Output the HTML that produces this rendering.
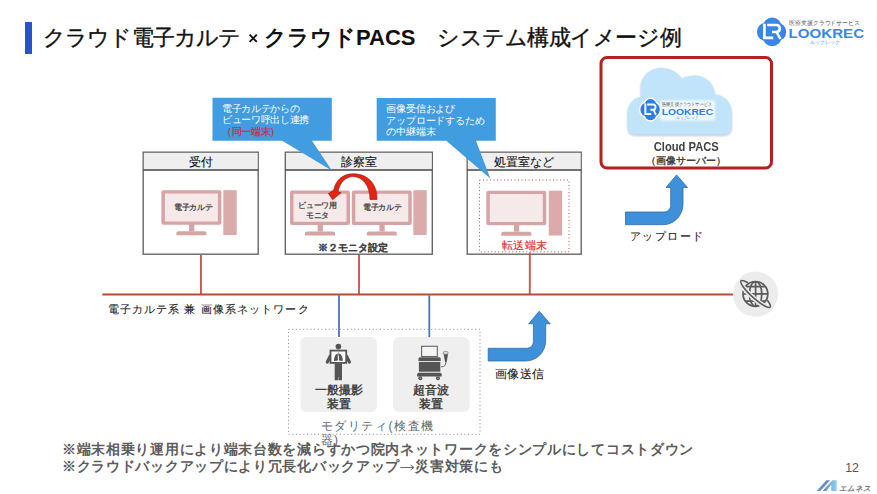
<!DOCTYPE html>
<html lang="ja">
<head>
<meta charset="utf-8">
<style>
html,body{margin:0;padding:0;background:#fff;}
body{width:877px;height:494px;position:relative;overflow:hidden;font-family:"Liberation Sans",sans-serif;color:#222;}
.t{position:absolute;white-space:nowrap;line-height:1;}
svg{position:absolute;left:0;top:0;}
</style>
</head>
<body>
<svg width="877" height="494" viewBox="0 0 877 494">
  <defs>
    <g id="mon">
      <rect x="0" y="0" width="60" height="34.5" rx="2" fill="#d6a4a5"/>
      <rect x="3.5" y="3.3" width="53" height="28" fill="#f6e9e9"/>
      <rect x="27.6" y="34" width="5.3" height="7" fill="#d6a4a5"/>
      <path d="M15,45 L15,42.5 Q15,41 17,41 L43,41 Q45,41 45,42.5 L45,45 Z" fill="#d6a4a5"/>
    </g>
    <g id="tower">
      <rect x="0" y="0" width="13.4" height="44.8" fill="#dbaaab"/>
    </g>
    <g id="barrow">
      <!-- blue bent arrow, origin = bar left/top -->
      <path d="M0,0 H38.5 C42.2,0 45.2,-3 45.2,-6.7 V-24.5 H40.5 L51,-37.1 L62,-24.5 H57.5 V-8 C57.5,3.4 48.8,12.7 37.5,12.7 H0 Z" fill="#3f90db" stroke="#2f6cab" stroke-width="0.8"/>
    </g>
    <g id="mlogo">
      <circle cx="0" cy="0" r="13" fill="#3a86e6"/>
    </g>
  </defs>
  <!-- title bar -->
  <rect x="25" y="22" width="7" height="32" fill="#2855c5"/>
  <path d="M249.6,34.7 L256.8,41.9 M256.8,34.7 L249.6,41.9" stroke="#111" stroke-width="1.9"/>

  <!-- Cloud PACS red box -->
  <rect x="601" y="57.5" width="170.5" height="110.5" rx="6" fill="#fff" stroke="#b52020" stroke-width="3"/>
  <!-- cloud -->
  <defs><filter id="cs" x="-10%" y="-10%" width="120%" height="130%"><feGaussianBlur stdDeviation="1"/></filter></defs>
  <path d="M635.5,134.6 Q627.5,134.6 627.5,126.5 V113 C627.5,104 634,97.3 640.6,97.1 V88 C640.6,76.7 649.7,67.8 661,67.8 C670,67.8 677.5,72 682,78.4 C685.5,76.2 689.5,75.4 695,75.4 C705.5,75.4 714.7,83.5 714.7,94 C724.5,95 731.7,102.5 731.7,112 V126.5 Q731.7,134.6 723.7,134.6 Z" fill="#8fa4b4" opacity="0.55" transform="translate(0 1.4)" filter="url(#cs)"/>
  <path d="M635.5,134.6 Q627.5,134.6 627.5,126.5 V113 C627.5,104 634,97.3 640.6,97.1 V88 C640.6,76.7 649.7,67.8 661,67.8 C670,67.8 677.5,72 682,78.4 C685.5,76.2 689.5,75.4 695,75.4 C705.5,75.4 714.7,83.5 714.7,94 C724.5,95 731.7,102.5 731.7,112 V126.5 Q731.7,134.6 723.7,134.6 Z" fill="#c2e4fa"/>

  <!-- boxes -->
  <g stroke="#666" stroke-width="1.4" fill="#fff">
    <rect x="143.2" y="152.2" width="115" height="102"/>
    <rect x="285.3" y="152.2" width="147" height="102"/>
    <rect x="467.2" y="152.2" width="114" height="102"/>
  </g>
  <g fill="#efefef">
    <rect x="143.9" y="152.9" width="113.6" height="16.6"/>
    <rect x="286" y="152.9" width="145.6" height="16.6"/>
    <rect x="467.9" y="152.9" width="112.6" height="16.6"/>
  </g>
  <g stroke="#444" stroke-width="1.6">
    <line x1="143.2" y1="170" x2="258.2" y2="170"/>
    <line x1="285.3" y1="170" x2="432.3" y2="170"/>
    <line x1="467.2" y1="170" x2="581.2" y2="170"/>
  </g>
  <!-- dotted red in 処置室 -->
  <rect x="479.5" y="180" width="89.5" height="71.8" fill="none" stroke="#c04a4a" stroke-width="1" stroke-dasharray="1 2.5"/>

  <!-- monitors -->
  <use href="#mon" x="161.4" y="190.2"/>
  <use href="#tower" x="223.3" y="190.2"/>
  <use href="#mon" x="290" y="190.5"/>
  <use href="#mon" x="351.8" y="190.5"/>
  <use href="#tower" x="413.3" y="190.2"/>
  <use href="#mon" x="486.3" y="190.7"/>
  <use href="#tower" x="548.7" y="190.7"/>

  <!-- curved red arrow -->
  <path d="M377,199.5 C377.3,184 368,173.8 353,173.8 C342,173.8 335.5,181 333.6,190.3 L328.4,193.5 L332.6,199.8 L341.1,192.8 L338,191.6 C339.7,183 345.5,176.6 353,176.6 C362,176.6 370,185 370,199.5 Z" fill="#e52310" stroke="#8b1a1a" stroke-width="0.6"/>

  <!-- callouts -->
  <path d="M212.5,97.8 H331.8 V140.7 H312 L331.8,170.4 L282.2,140.7 H212.5 Z" fill="#419de0"/>
  <path d="M376.7,98 H495.8 V140.7 H476 L490.3,178.6 L446.3,140.7 H376.7 Z" fill="#419de0"/>

  <!-- network -->
  <g stroke="#c55a48" stroke-width="1.9">
    <line x1="200.9" y1="254.8" x2="200.9" y2="294.5"/>
    <line x1="359" y1="254.8" x2="359" y2="294.5"/>
    <line x1="529.8" y1="252.5" x2="529.8" y2="294.5"/>
  </g>
  <line x1="102.3" y1="294.5" x2="733" y2="294.5" stroke="#b84a3c" stroke-width="1.8"/>
  <g stroke="#4a74b8" stroke-width="1.8">
    <line x1="339" y1="295.3" x2="339" y2="337.5"/>
    <line x1="429.3" y1="295.3" x2="429.3" y2="337.5"/>
  </g>

  <!-- globe -->
  <circle cx="755.5" cy="294.2" r="22.6" fill="#ececec"/>
  <ellipse cx="755.6" cy="294" rx="19.6" ry="4.3" transform="rotate(42 755.6 294)" fill="none" stroke="#5a5a5a" stroke-width="1.6"/>
  <circle cx="755.4" cy="293.9" r="13.3" fill="#ececec"/>
  <clipPath id="gclip"><circle cx="755.4" cy="293.9" r="12.4"/></clipPath>
  <g fill="none" stroke="#5a5a5a" stroke-width="1.7">
    <circle cx="755.4" cy="293.9" r="12.4"/>
    <g clip-path="url(#gclip)">
      <ellipse cx="755.6" cy="293.9" rx="6.2" ry="12.4"/>
      <line x1="755.6" y1="281" x2="755.6" y2="307"/>
      <line x1="742" y1="293.9" x2="769" y2="293.9"/>
      <line x1="742" y1="286.6" x2="769" y2="286.6"/>
      <line x1="742" y1="301.2" x2="769" y2="301.2"/>
    </g>
  </g>
  <path d="M755.6,294 m-19.6,0 a19.6,4.3 0 0 0 39.2,0" transform="rotate(42 755.6 294)" fill="none" stroke="#ececec" stroke-width="4.6"/>
  <path d="M755.6,294 m-19.6,0 a19.6,4.3 0 0 0 39.2,0" transform="rotate(42 755.6 294)" fill="none" stroke="#5a5a5a" stroke-width="1.6"/>

  <!-- modality -->
  <rect x="288.5" y="329.3" width="191.5" height="105" fill="none" stroke="#888" stroke-width="1" stroke-dasharray="1 2.66"/>
  <rect x="300.3" y="337" width="76.6" height="75" rx="6" fill="#efefef"/>
  <rect x="393.1" y="337" width="76.6" height="75" rx="6" fill="#efefef"/>


  <!-- xray person icon -->
  <g fill="#555">
    <circle cx="338.4" cy="346.6" r="2.8"/>
    <rect x="329.6" y="349.7" width="17.5" height="14.1"/>

    <path d="M334.7,363.5 H342 V380.3 H338.6 V377 H338.2 V380.3 H334.7 Z"/>
  </g>
  <path d="M330.2,356.2 L327.3,362 M346.5,356.2 L349.4,362" stroke="#555" stroke-width="3.2" stroke-linecap="round"/>
  <rect x="331.4" y="351.5" width="13.9" height="10.5" fill="#fff"/>
  <g fill="#555">
    <path d="M337.7,353.5 C335.5,354 334,357 334,361 L337.9,360.5 Z"/>
    <path d="M339.1,353.5 C341.3,354 342.8,357 342.8,361 L338.9,360.5 Z"/>
    <rect x="338.1" y="352.2" width="0.6" height="4"/>
  </g>
  <!-- ultrasound icon -->
  <rect x="421.6" y="346.3" width="15.7" height="10.2" fill="#f4f4f4" stroke="#666" stroke-width="1.1"/>
  <g fill="#555">
    <path d="M418.5,361 V358.8 Q418.5,357.3 420,357.3 H439.2 Q440.7,357.3 440.7,358.8 V361 Z"/>
    <rect x="418.9" y="361.9" width="21.4" height="9.8"/>
    <path d="M417.1,376.6 V374.5 Q417.1,372.8 418.8,372.8 H440 Q441.7,372.8 441.7,374.5 V376.6 Z"/>
    <circle cx="420.3" cy="378.3" r="2"/>
    <circle cx="438" cy="378.3" r="2"/>
    <path d="M443.6,354.2 H448 L446.8,361.8 Q446,362.6 445,361.8 Z"/>
  </g>
  <path d="M443.4,351.9 Q445.6,350.9 447.9,351.9 L448,354.1 H443.3 Z" fill="#e6e6e6" stroke="#666" stroke-width="0.6"/>
  <path d="M445.9,362 Q446,366.8 441.2,366.8" fill="none" stroke="#666" stroke-width="1"/>
  <circle cx="420.3" cy="378.3" r="0.7" fill="#aaa"/><circle cx="438" cy="378.3" r="0.7" fill="#aaa"/>


  <!-- LOOKREC logo top right -->
  <g id="lrlogo">
    <rect x="763" y="17.6" width="18.4" height="28.6" rx="9" fill="#3a86e6"/>
    <rect x="757" y="23" width="29.2" height="17.8" rx="8.5" fill="#3a86e6"/>
    <path d="M764.4,23.8 V37.9 H773.2" fill="none" stroke="#fff" stroke-width="2.7"/>
    <path d="M767.2,25.1 H776.2 Q779.8,25.1 779.8,28.6 Q779.8,32 776.2,32 H772 M776.6,32.2 L780.4,39" fill="none" stroke="#fff" stroke-width="2.5"/>
  </g>
  <text x="789" y="25.2" font-family="Liberation Sans, sans-serif" font-size="5.6" fill="#555" textLength="71" lengthAdjust="spacingAndGlyphs">医療支援クラウドサービス</text>
  <text x="788.6" y="38.4" font-family="Liberation Sans, sans-serif" font-size="12.9" font-weight="bold" fill="#3a86e6" textLength="75.5" lengthAdjust="spacingAndGlyphs">LOOKREC</text>
  <text x="809.5" y="43.6" font-family="Liberation Sans, sans-serif" font-size="5" fill="#3a86e6" textLength="30.5" lengthAdjust="spacingAndGlyphs">ルックレック</text>

  <!-- LOOKREC logo in cloud -->
  <defs><filter id="soft" x="-20%" y="-40%" width="140%" height="180%"><feGaussianBlur stdDeviation="0.9"/></filter></defs>
  <rect x="660.5" y="100.6" width="54.5" height="20" rx="2" fill="#fff" opacity="0.8" filter="url(#soft)"/>
  <g transform="translate(650.1 109.6) scale(0.66 0.74) translate(-771.6 -31.9)">
    <rect x="763" y="17.6" width="18.4" height="28.6" rx="9" fill="#fff" stroke="#fff" stroke-width="4"/>
    <rect x="757" y="23" width="29.2" height="17.8" rx="8.5" fill="#fff" stroke="#fff" stroke-width="4"/>
    <rect x="763" y="17.6" width="18.4" height="28.6" rx="9" fill="#2f7de0"/>
    <rect x="757" y="23" width="29.2" height="17.8" rx="8.5" fill="#2f7de0"/>
    <path d="M764.4,23.8 V37.9 H773.2" fill="none" stroke="#fff" stroke-width="2.9"/>
    <path d="M767.2,25.1 H776.2 Q779.8,25.1 779.8,28.6 Q779.8,32 776.2,32 H772 M776.6,32.2 L780.4,39" fill="none" stroke="#fff" stroke-width="2.7"/>
  </g>
  <text x="662" y="105.6" font-family="Liberation Sans, sans-serif" font-size="4.6" fill="#555" textLength="50" lengthAdjust="spacingAndGlyphs">医療支援クラウドサービス</text>
  <text x="661.8" y="114.7" font-family="Liberation Sans, sans-serif" font-size="9.2" font-weight="bold" fill="#2f7de0" textLength="51.3" lengthAdjust="spacingAndGlyphs">LOOKREC</text>
  <text x="676.2" y="119.2" font-family="Liberation Sans, sans-serif" font-size="4.2" fill="#2f7de0" textLength="22.5" lengthAdjust="spacingAndGlyphs">ルックレック</text>

  <!-- M logo bottom right -->
  <defs>
    <linearGradient id="mg" x1="0" y1="0" x2="1" y2="0">
      <stop offset="0" stop-color="#5b84c4"/><stop offset="1" stop-color="#8fd3f0"/>
    </linearGradient>
  </defs>
  <path d="M816.6,490.9 L826.4,480.2 H830.2 L820.3,490.9 Z" fill="#6b8fc6"/>
  <path d="M822.6,490.9 L832.4,480.2 H836.7 V490.9 H831.3 V484.5 L826.4,490.9 Z" fill="url(#mg)"/>
  <text x="838.8" y="490.9" font-family="Liberation Sans, sans-serif" font-size="7.6" font-weight="bold" font-style="italic" fill="#7a7a7a" textLength="32" lengthAdjust="spacingAndGlyphs">エムネス</text>

  <path d="M400.4,467.5 H413.6 M410.6,465.1 L414,467.5 L410.6,469.9" fill="none" stroke="#666" stroke-width="1"/>
  <!-- blue arrows -->
  <use href="#barrow" x="625.5" y="212"/>
  <use href="#barrow" x="488.2" y="348.3"/>
</svg>

<!-- title -->
<div class="t" style="left:43px;top:27px;font-size:22px;color:#111;letter-spacing:-0.85px;-webkit-text-stroke:0.35px #111;">クラウド電子カルテ</div>
<div class="t" style="left:264px;top:27px;font-size:22px;color:#111;font-weight:bold;">クラウドPACS</div>
<div class="t" style="left:437px;top:27px;font-size:21.6px;color:#111;letter-spacing:-0.45px;-webkit-text-stroke:0.35px #111;">システム構成イメージ例</div>


<!-- callout texts -->
<div class="t" style="left:222px;top:102.6px;font-size:9.6px;line-height:11.75px;color:#fff;letter-spacing:-0.35px;">電子カルテからの<br>ビューワ呼出し連携<br><span style="color:#d42c46;-webkit-text-stroke:0.3px #d42c46;">（同一端末）</span></div>
<div class="t" style="left:386.4px;top:103.2px;font-size:9.6px;line-height:11.5px;color:#fff;letter-spacing:-0.2px;">画像受信および<br>アップロードするため<br>の中継端末</div>

<!-- box headers -->
<div class="t" style="left:143.2px;width:115px;text-align:center;top:157.3px;font-size:11.5px;color:#111;-webkit-text-stroke:0.12px #111;">受付</div>
<div class="t" style="left:285.3px;width:147px;text-align:center;top:157.3px;font-size:11.5px;color:#111;-webkit-text-stroke:0.12px #111;">診察室</div>
<div class="t" style="left:467.2px;width:114px;text-align:center;top:157.3px;font-size:11.5px;color:#111;-webkit-text-stroke:0.12px #111;">処置室など</div>

<!-- monitor texts -->
<div class="t" style="left:163.3px;width:60px;text-align:center;top:203.8px;font-size:8.1px;letter-spacing:-0.3px;font-weight:bold;color:#4a4a4a;">電子カルテ</div>
<div class="t" style="left:287.6px;width:60px;text-align:center;top:200.8px;font-size:8px;line-height:10px;letter-spacing:-0.3px;font-weight:bold;color:#4a4a4a;">ビューワ用<br>モニタ</div>
<div class="t" style="left:352.3px;width:60px;text-align:center;top:203.5px;font-size:8.1px;letter-spacing:-0.3px;font-weight:bold;color:#4a4a4a;">電子カルテ</div>
<div class="t" style="left:285.3px;width:135px;text-align:center;top:242.8px;font-size:9.7px;font-weight:bold;color:#444;-webkit-text-stroke:0.1px #444;">※２モニタ設定</div>
<div class="t" style="left:479.5px;width:90px;text-align:center;top:239.9px;font-size:10.9px;letter-spacing:0.5px;text-indent:0.5px;color:#e02c2c;-webkit-text-stroke:0.15px #e02c2c;">転送端末</div>

<!-- cloud pacs -->
<div class="t" style="left:601px;width:170.5px;text-align:center;top:140px;font-size:13px;font-weight:bold;color:#404040;transform:scaleX(0.86);transform-origin:50% 0;">Cloud PACS</div>
<div class="t" style="left:601px;width:170.5px;text-align:center;top:156px;font-size:9.8px;font-weight:bold;color:#404040;">（画像サーバー）</div>

<!-- arrow labels -->
<div class="t" style="left:629.5px;top:231px;font-size:11.2px;letter-spacing:1.6px;color:#1a1a1a;-webkit-text-stroke:0.1px #1a1a1a;">アップロード</div>
<div class="t" style="left:494.8px;top:368px;font-size:11.6px;letter-spacing:0.5px;color:#1a1a1a;-webkit-text-stroke:0.1px #1a1a1a;">画像送信</div>

<!-- network label -->
<div class="t" style="left:107.6px;top:303.6px;font-size:11.2px;letter-spacing:1.1px;color:#222;-webkit-text-stroke:0.1px #222;">電子カルテ系 兼 画像系ネットワーク</div>

<!-- modality labels -->
<div class="t" style="left:300.3px;width:76.6px;text-align:center;top:382.9px;font-size:12px;line-height:14px;font-weight:bold;color:#444;">一般撮影<br>装置</div>
<div class="t" style="left:393.1px;width:76.6px;text-align:center;top:382.9px;font-size:12px;line-height:14px;font-weight:bold;color:#444;">超音波<br>装置</div>
<div class="t" style="left:320.5px;top:418.9px;font-size:12px;line-height:14.5px;letter-spacing:1.6px;color:#666;">モダリティ(検査機<br>器)</div>

<!-- notes -->
<div class="t" style="left:62px;top:441.3px;font-size:14px;line-height:17px;letter-spacing:0.7px;font-weight:bold;color:#5c5c5c;">※端末相乗り運用により端末台数を減らすかつ院内ネットワークをシンプルにしてコストダウン<br>※クラウドバックアップにより冗長化バックアップ<span style="display:inline-block;width:15.2px"></span>災害対策にも</div>

<!-- page number -->
<div class="t" style="left:845.2px;top:461.9px;font-size:12.3px;color:#555;">12</div>

</body>
</html>
